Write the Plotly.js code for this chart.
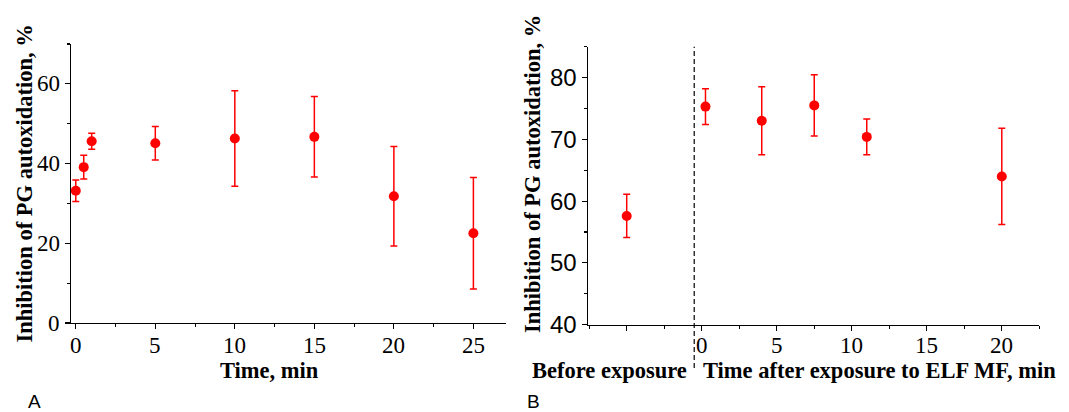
<!DOCTYPE html>
<html>
<head>
<meta charset="utf-8">
<script src="https://cdn.plot.ly/plotly-3.0.1.min.js"></script>
<style>html,body{margin:0;padding:0;background:#fff;} #chart{width:1069px;height:412px;}</style>
</head>
<body>
<div id="chart"></div>
<script>
// Panel A data
var timeA = [0, 0.5, 1, 5, 10, 15, 20, 25];
var inhA  = [33.2, 39.1, 45.6, 45.1, 46.3, 46.7, 31.8, 22.5];
var errA  = [2.7, 3.0, 2.0, 4.2, 12.0, 10.1, 12.5, 14.0];

// Panel B data
var beforeX   = [-5];
var beforeY   = [57.6];
var beforeErr = [3.5];
var timeB = [0.25, 4, 7.5, 11, 20];
var inhB  = [75.3, 73.0, 75.5, 70.4, 64.0];
var errB  = [2.9, 5.5, 4.95, 2.9, 7.8];

// Tick labels
var xTicksA = [0, 5, 10, 15, 20, 25];
var yTicksA = [0, 20, 40, 60];
var xTicksB = [0, 5, 10, 15, 20];
var xMajorB = [-5, 0, 5, 10, 15, 20];
var yTicksB = [40, 50, 60, 70, 80];
var exposureBoundary = -0.5;

var W = 1069, H = 412;
function px(x){ return x / W; }
function py(y){ return 1 - y / H; }

var red = '#ff0000';
var serif = 'Liberation Serif, Times New Roman, serif';
var sans = 'Liberation Sans, Arial, sans-serif';

function pts(x, y, e, xa, ya){
  return {
    x: x, y: y, xaxis: xa, yaxis: ya, type: 'scatter', mode: 'markers',
    marker: {color: red, size: 10},
    error_y: {type: 'data', array: e, visible: true, color: red, thickness: 1.5, width: 3.5},
    showlegend: false, hoverinfo: 'x+y', cliponaxis: false
  };
}

var data = [
  pts(timeA, inhA, errA, 'x', 'y'),
  pts(beforeX, beforeY, beforeErr, 'x2', 'y2'),
  pts(timeB, inhB, errB, 'x2', 'y2')
];

var axBase = {
  showgrid: false, zeroline: false, showline: true, linecolor: '#000', linewidth: 1.2,
  ticks: 'outside', ticklen: 5, tickwidth: 1.1, tickcolor: '#000',
  showticklabels: false, fixedrange: true
};
function ax(o){ return Object.assign({}, axBase, o); }
var minorBase = {ticks: 'outside', ticklen: 3, tickwidth: 1.1, tickcolor: '#000'};
function mn(o){ return Object.assign({}, minorBase, o); }

var layout = {
  width: W, height: H,
  margin: {l: 0, r: 0, t: 0, b: 0, pad: 0},
  paper_bgcolor: '#fff', plot_bgcolor: '#fff',
  showlegend: false,
  xaxis: ax({
    domain: [px(71), px(506)], anchor: 'y', range: [-0.3, 27.05],
    tickmode: 'array', tickvals: xTicksA,
    minor: mn({tickmode: 'linear', dtick: 2.5, tick0: 0})
  }),
  yaxis: ax({
    domain: [py(323), py(44)], anchor: 'x', range: [0, 70],
    tickmode: 'array', tickvals: yTicksA,
    minor: mn({tickmode: 'linear', dtick: 10, tick0: 0})
  }),
  xaxis2: ax({
    domain: [px(588.3), px(1039.3)], anchor: 'y2', range: [-7.56, 22.5],
    tickmode: 'array', tickvals: xMajorB,
    minor: mn({tickmode: 'linear', dtick: 2.5, tick0: 0})
  }),
  yaxis2: ax({
    domain: [py(324.7), py(46.7)], anchor: 'x2', range: [40, 85],
    tickmode: 'array', tickvals: yTicksB,
    minor: mn({tickmode: 'linear', dtick: 5, tick0: 40})
  }),
  shapes: [{
    type: 'line', xref: 'x2', yref: 'paper',
    x0: exposureBoundary, x1: exposureBoundary, y0: py(368), y1: py(46.7),
    line: {color: '#000', width: 1.2, dash: '5px,3px'}
  }],
  annotations: []
};

var ann = layout.annotations;
xTicksA.forEach(function(v){
  ann.push({text: String(v), xref: 'x', yref: 'paper', x: v, y: py(345),
    xanchor: 'center', yanchor: 'middle', showarrow: false,
    font: {family: serif, size: 23, color: '#000'}});
});
yTicksA.forEach(function(v){
  ann.push({text: String(v), xref: 'paper', yref: 'y', x: px(62), y: v,
    xanchor: 'right', yanchor: 'middle', showarrow: false,
    font: {family: serif, size: 23, color: '#000'}});
});
xTicksB.forEach(function(v){
  ann.push({text: String(v), xref: 'x2', yref: 'paper', x: v, y: py(345),
    xanchor: 'center', yanchor: 'middle', showarrow: false,
    font: {family: serif, size: 23, color: '#000'}});
});
yTicksB.forEach(function(v){
  ann.push({text: String(v), xref: 'paper', yref: 'y2', x: px(579), y: v,
    xanchor: 'right', yanchor: 'middle', showarrow: false,
    font: {family: sans, size: 24, color: '#000'}});
});

ann.push(
  {text: '<b>Inhibition of PG autoxidation, %</b>', xref: 'paper', yref: 'paper',
   x: px(24), y: py(183.5), xanchor: 'center', yanchor: 'middle', textangle: -90,
   showarrow: false, font: {family: serif, size: 22.5, color: '#000'}},
  {text: '<b>Time, min</b>', xref: 'paper', yref: 'paper',
   x: px(269), y: py(370), xanchor: 'center', yanchor: 'middle',
   showarrow: false, font: {family: serif, size: 22.5, color: '#000'}},
  {text: '<b>Inhibition of PG autoxidation, %</b>', xref: 'paper', yref: 'paper',
   x: px(532), y: py(174), xanchor: 'center', yanchor: 'middle', textangle: -90,
   showarrow: false, font: {family: serif, size: 22.5, color: '#000'}},
  {text: '<b>Before exposure</b>', xref: 'paper', yref: 'paper',
   x: px(689), y: py(370), xanchor: 'right', yanchor: 'middle',
   showarrow: false, font: {family: serif, size: 22.5, color: '#000'}},
  {text: '<b>Time after exposure to ELF MF, min</b>', xref: 'paper', yref: 'paper',
   x: px(701), y: py(370), xanchor: 'left', yanchor: 'middle',
   showarrow: false, font: {family: serif, size: 22.5, color: '#000'}},
  {text: 'A', xref: 'paper', yref: 'paper', x: px(34.5), y: py(401),
   xanchor: 'center', yanchor: 'middle', showarrow: false,
   font: {family: sans, size: 19, color: '#000'}},
  {text: 'B', xref: 'paper', yref: 'paper', x: px(533.5), y: py(401),
   xanchor: 'center', yanchor: 'middle', showarrow: false,
   font: {family: sans, size: 19, color: '#000'}}
);

Plotly.newPlot('chart', data, layout, {displayModeBar: false, staticPlot: true});
</script>
</body>
</html>
